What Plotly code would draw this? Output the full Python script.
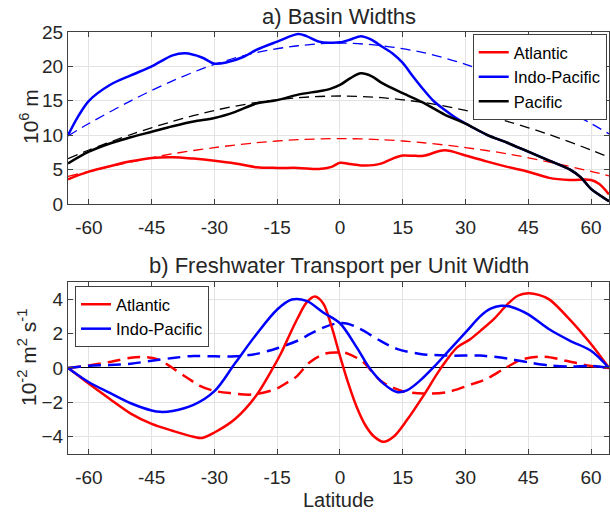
import plotly.graph_objects as go
from plotly.subplots import make_subplots

# ---------- panel a) Basin widths (10^6 m) ----------
lat_atl_w = [-65, -60, -55, -50, -45, -40, -35, -30, -25, -20, -15, -10, -5, -2, 0, 2.5, 5, 8, 10, 13,
             15, 18, 20, 25, 30, 35, 40, 45, 50, 55, 60, 62, 64.3]
atl_w = [3.6, 4.7, 5.5, 6.2, 6.7, 6.8, 6.6, 6.3, 5.9, 5.35, 5.25, 5.25, 5.1, 5.4, 6.0, 5.8, 5.6, 5.65, 5.9, 6.7,
         7.05, 7.0, 7.0, 7.8, 7.05, 6.2, 5.4, 4.7, 3.8, 3.5, 3.5, 2.9, 1.4]

lat_ip_w = [-65, -62.5, -60, -55, -50, -45, -40, -37, -33, -30, -27, -23, -20, -15, -10, -8, -5, -2.5, 0, 2.5,
            5, 7.5, 10, 12.5, 15, 17.5, 20, 22.5, 25, 27.5, 30, 35, 40, 45, 50, 55, 57.5, 60, 62, 64.3]
ip_w = [10.0, 12.8, 15.0, 17.3, 18.7, 20.0, 21.6, 21.9, 21.3, 20.4, 20.6, 21.4, 22.4, 23.6, 24.7, 24.4, 23.6, 23.45, 23.5, 23.9,
        24.4, 23.9, 22.9, 21.9, 20.5, 18.5, 16.6, 14.9, 13.7, 12.6, 11.7, 10.1, 8.9, 7.6, 6.3, 5.0, 3.9, 2.2, 1.3, 0.4]

lat_pac_w = [-65, -60, -55, -50, -45, -40, -35, -30, -25, -20, -15, -10, -5, -2.5, 0, 2.5, 5, 7.5, 10, 15,
             20, 25, 30, 35, 40, 45, 50, 55, 57.5, 60, 62, 64.3]
pac_w = [5.9, 7.6, 8.8, 9.7, 10.5, 11.3, 12.0, 12.5, 13.4, 14.6, 15.1, 15.9, 16.4, 16.7, 17.3, 18.3, 19.0, 18.6, 17.6, 16.1,
         14.7, 13.0, 11.7, 10.1, 8.9, 7.6, 6.3, 5.0, 3.9, 2.2, 1.3, 0.4]

lat_fit = [-65, -60, -50, -40, -30, -20, -10, 0, 10, 20, 30, 40, 50, 60, 64.3]
atl_fit = [4.0, 4.75, 6.1, 7.3, 8.2, 8.9, 9.35, 9.5, 9.35, 8.9, 8.2, 7.3, 6.1, 4.75, 4.1]
ip_fit = [9.9, 11.7, 15.0, 17.9, 20.3, 22.0, 23.0, 23.4, 23.0, 22.0, 20.3, 17.9, 15.0, 11.7, 10.2]
pac_fit = [6.6, 7.85, 10.1, 12.0, 13.6, 14.75, 15.45, 15.7, 15.45, 14.75, 13.6, 12.0, 10.1, 7.85, 6.8]

# ---------- panel b) Freshwater transport per unit width (10^-2 m^2 s^-1) ----------
lat_atl_f = [-65, -62.5, -60, -55, -50, -45, -40, -35, -33, -30, -25, -20, -16, -14, -12, -10, -8, -6, -4, -2,
             0, 2, 4, 6, 8, 10.4, 12.8, 16, 20, 24, 28, 31, 34, 37, 40, 42.5, 45, 47.5, 50, 55, 60, 64.3]
atl_f = [0, -0.45, -0.92, -1.8, -2.65, -3.25, -3.65, -4.0, -4.07, -3.75, -2.95, -1.6, 0, 0.9, 1.95, 2.95, 3.8, 4.15, 3.75, 2.4,
         0.7, -0.9, -2.27, -3.3, -3.95, -4.29, -4.0, -3.03, -1.59, -0.05, 1.2, 1.65, 2.25, 2.9, 3.7, 4.2, 4.34, 4.25, 3.99, 2.8,
         1.39, 0]

lat_ip_f = [-65, -60, -55, -50, -45, -43, -40, -35, -30, -25, -20, -15, -11.5, -8, -4, 0, 4, 7.2, 10.4, 13.6,
            16, 19.2, 22.4, 26.4, 30.4, 33.5, 36, 38.5, 41, 45, 50, 55, 60, 64.3]
ip_f = [0, -0.83, -1.45, -2.05, -2.47, -2.55, -2.5, -2.15, -1.35, 0.3, 1.95, 3.4, 3.98, 3.9, 3.23, 2.6, 1.2, -0.05, -0.91, -1.4,
        -1.3, -0.72, 0.05, 1.11, 2.17, 3.0, 3.45, 3.62, 3.55, 3.12, 2.25, 1.58, 1.0, 0]

lat_atl_fd = [-65, -60, -55, -50, -46, -43, -40, -36.7, -33.6, -30.4, -26.4, -20.8, -15.2, -13, -10.4, -7.2, -3.2, 0, 1.6, 5.6,
              9.6, 14.4, 20, 25.6, 31.9, 35, 39.8, 43.8, 49, 54, 59.7, 64.3]
atl_fd = [0, 0.15, 0.35, 0.6, 0.63, 0.45, 0.0, -0.54, -1.02, -1.31, -1.46, -1.54, -1.21, -0.9, -0.5, 0.34, 0.86, 0.9, 0.86, 0.34,
          -0.72, -1.3, -1.49, -1.4, -0.91, -0.64, 0.04, 0.52, 0.66, 0.42, 0.13, 0]

lat_ip_fd = [-65, -60, -55, -50, -45, -40, -35, -30, -25, -20, -15, -10, -7, -4, -1, 1.6, 4.8, 9.6, 13.6, 19.2,
             25.6, 33.5, 40, 45, 50, 55, 60, 64.3]
ip_fd = [0, 0.13, 0.17, 0.25, 0.42, 0.58, 0.7, 0.68, 0.68, 0.82, 1.15, 1.6, 2.0, 2.35, 2.58, 2.59, 2.27, 1.59, 1.11, 0.82,
         0.72, 0.72, 0.55, 0.33, 0.15, 0.08, 0.12, 0]

x_ticks = [-60, -45, -30, -15, 0, 15, 30, 45, 60]
y1_ticks = [0, 5, 10, 15, 20, 25]
y2_ticks = [-4, -2, 0, 2, 4]

RED, BLUE, BLACK = "#ff0000", "#0000ff", "#000000"
FONT = "Liberation Sans, Arial, sans-serif"
TXT = "#262626"

fig = make_subplots(rows=2, cols=1)

def line(x, y, color, width, dash=None, name=None, show=False, legend="legend", row=1):
    fig.add_trace(go.Scatter(x=x, y=y, mode="lines", name=name, showlegend=show, legend=legend,
                             line=dict(color=color, width=width, dash=dash, shape="spline", smoothing=0.9),
                             hoverinfo="skip"), row=row, col=1)

# top panel
line(lat_fit, atl_fit, RED, 1.3, "10px,6px")
line(lat_fit, ip_fit, BLUE, 1.3, "10px,6px")
line(lat_fit, pac_fit, BLACK, 1.3, "10px,6px")
line(lat_atl_w, atl_w, RED, 2.5, None, "Atlantic", True, "legend")
line(lat_ip_w, ip_w, BLUE, 2.5, None, "Indo-Pacific", True, "legend")
line(lat_pac_w, pac_w, BLACK, 2.5, None, "Pacific", True, "legend")

# bottom panel
line(lat_atl_fd, atl_fd, RED, 2.5, "13px,7px", row=2)
line(lat_ip_fd, ip_fd, BLUE, 2.5, "13px,7px", row=2)
line(lat_atl_f, atl_f, RED, 2.5, None, "Atlantic", True, "legend2", row=2)
line(lat_ip_f, ip_f, BLUE, 2.5, None, "Indo-Pacific", True, "legend2", row=2)

axis_common = dict(showline=True, linecolor="#404040", linewidth=1, mirror="ticks",
                   ticks="inside", ticklen=5, tickcolor="#404040",
                   showgrid=True, gridcolor="#e3e3e3", gridwidth=1,
                   tickfont=dict(family=FONT, size=19, color=TXT))

fig.update_xaxes(range=[-65, 64.3], tickvals=x_ticks, ticktext=[str(v) for v in x_ticks],
                 zeroline=False, ticklabelstandoff=6, **axis_common)
fig.update_yaxes(axis_common)
fig.update_yaxes(range=[0, 25], tickvals=y1_ticks, zeroline=False, domain=[0.5924, 1.0], row=1, col=1)
fig.update_yaxes(range=[-5, 5], tickvals=y2_ticks, zeroline=True, zerolinecolor="#000000",
                 zerolinewidth=1, domain=[0.0, 0.4076], row=2, col=1)
fig.update_xaxes(domain=[0, 1])

title_font = dict(family=FONT, size=22, color=TXT)
label_font = dict(family=FONT, size=21, color=TXT)
annotations = [
    dict(text="a) Basin Widths", x=0.5, y=(454 - 16) / 422, xref="paper", yref="paper",
         xanchor="center", yanchor="middle", showarrow=False, font=title_font),
    dict(text="b) Freshwater Transport per Unit Width", x=0.5, y=(454 - 265) / 422, xref="paper", yref="paper",
         xanchor="center", yanchor="middle", showarrow=False, font=title_font),
    dict(text="Latitude", x=0.5, y=(454 - 500) / 422, xref="paper", yref="paper",
         xanchor="center", yanchor="middle", showarrow=False, font=dict(family=FONT, size=20, color=TXT)),
    dict(text="10<sup>6</sup> m", x=(29 - 68) / 541, y=(454 - 117) / 422, xref="paper", yref="paper",
         xanchor="center", yanchor="middle", textangle=-90, showarrow=False, font=label_font),
    dict(text="10<sup>-2</sup> m<sup>2</sup> s<sup>-1</sup>", x=(27 - 68) / 541, y=(454 - 358) / 422,
         xref="paper", yref="paper", xanchor="center", yanchor="middle", textangle=-90, showarrow=False,
         font=label_font),
]

legend_common = dict(bgcolor="#ffffff", bordercolor="#404040", borderwidth=1,
                     font=dict(family=FONT, size=16.5, color="#000000"),
                     tracegroupgap=0, itemwidth=30)

fig.update_layout(
    width=610, height=512,
    margin=dict(l=68, r=1, t=32, b=58),
    paper_bgcolor="#ffffff", plot_bgcolor="#ffffff",
    annotations=annotations,
    legend=dict(x=(606.7 - 68) / 541, y=(454 - 34) / 422, xanchor="right", yanchor="top", **legend_common),
    legend2=dict(x=(75 - 68) / 541, y=(454 - 286) / 422, xanchor="left", yanchor="top", **legend_common),
    font=dict(family=FONT, color=TXT),
)

fig.write_html("out.html")
